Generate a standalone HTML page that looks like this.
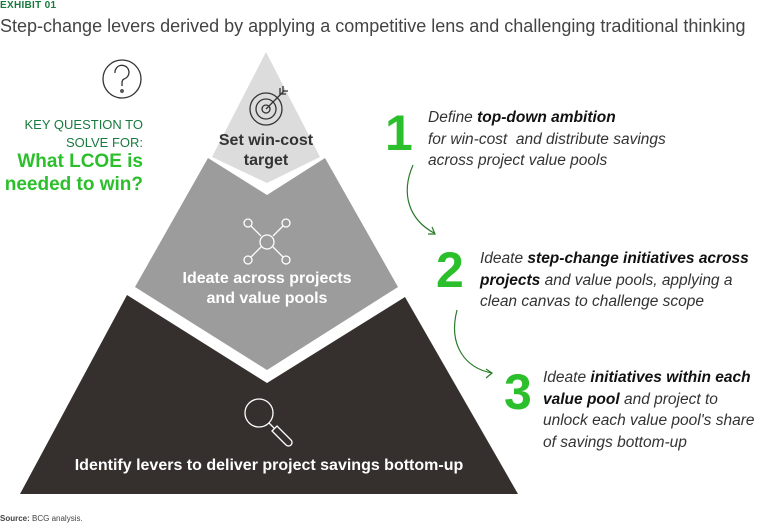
<!DOCTYPE html>
<html><head><meta charset="utf-8"><style>
body{margin:0;width:768px;height:526px;background:#fff;overflow:hidden;font-family:"Liberation Sans",sans-serif;position:relative}
.a{position:absolute;white-space:nowrap}
.it{font-style:italic;font-size:15.5px;color:#333;line-height:21.5px}
.it b{color:#111}
.n{font-weight:bold;color:#2bbf2b;font-size:50px;line-height:50px}
</style></head><body>
<div class="a" style="left:0;top:0;font-size:10px;font-weight:bold;color:#197a3e;letter-spacing:.3px">EXHIBIT 01</div>
<div class="a" style="left:0;top:16px;font-size:18px;color:#444">Step-change levers derived by applying a competitive lens and challenging traditional thinking</div>
<svg class="a" style="left:0;top:0" width="768" height="526">
<polygon points="266,52 320,157 267,183 212,157" fill="#dcdcdc"/>
<polygon points="208,158 267,195 325,158 398,287 267,370 135,287" fill="#9c9c9c"/>
<polygon points="127,295 267,383 405,297 518,494 20,494" fill="#35302e"/>
<g fill="none" stroke="#333" stroke-width="1.3">
<circle cx="122" cy="79" r="19"/>
<path d="M115,73 a7,7 0 1 1 9,6 q-2,1 -2,4 v3"/><circle cx="122" cy="91" r="1.2"/>
<circle cx="266" cy="109" r="16"/><circle cx="266" cy="109" r="10"/><circle cx="266" cy="109" r="4"/>
<path d="M266,109 L284,91 M280,88 l0,6 l6,0 M283,86 l0,5 l5,0"/>
</g>
<g fill="none" stroke="#fff" stroke-width="1.3">
<circle cx="267" cy="242" r="7"/>
<circle cx="248" cy="223" r="4"/><circle cx="286" cy="223" r="4"/><circle cx="248" cy="260" r="4"/><circle cx="286" cy="260" r="4"/>
<path d="M251,226 L261,236 M283,226 L273,236 M251,257 L261,247 M283,257 L273,247"/>
<circle cx="259" cy="413" r="14"/>
<path d="M269,423 L274,428 M272,431 l5,-5 l14,14 a3.5,3.5 0 0 1 -5,5 z"/>
</g>
<g fill="none" stroke="#2a7a2a" stroke-width="1.2">
<path d="M413,165 C400,195 410,220 434,233"/><path d="M428,234 L435,234 L432,227"/>
<path d="M457,310 C448,345 465,368 492,373"/><path d="M486,369 L492,373 L486,378"/>
</g>
</svg>
<div class="a" style="right:625px;top:116px;text-align:right;font-size:13px;color:#197a3e;line-height:18px">KEY QUESTION TO<br>SOLVE FOR:</div>
<div class="a" style="right:625px;top:150px;text-align:right;font-size:19px;font-weight:bold;color:#2bbf2b;line-height:23px">What LCOE is<br>needed to win?</div>
<div class="a" style="left:196px;width:140px;top:131px;text-align:center;font-size:16px;font-weight:bold;color:#333;line-height:20px">Set win-cost<br>target</div>
<div class="a" style="left:167px;width:200px;top:269px;text-align:center;font-size:16px;font-weight:bold;color:#fff;line-height:20px">Ideate across projects<br>and value pools</div>
<div class="a" style="left:20px;width:498px;top:457px;text-align:center;font-size:16px;font-weight:bold;color:#fff">Identify levers to deliver project savings bottom-up</div>
<div class="a n" style="left:385px;top:108px">1</div>
<div class="a it" style="left:428px;top:107px">Define <b>top-down ambition</b><br>for win-cost &nbsp;and distribute savings<br>across project value pools</div>
<div class="a n" style="left:436px;top:245px">2</div>
<div class="a it" style="left:480px;top:248px">Ideate <b>step-change initiatives across</b><br><b>projects</b> and value pools, applying a<br>clean canvas to challenge scope</div>
<div class="a n" style="left:504px;top:367px">3</div>
<div class="a it" style="left:543px;top:367px">Ideate <b>initiatives within each</b><br><b>value pool</b> and project to<br>unlock each value pool's share<br>of savings bottom-up</div>
<div class="a" style="left:0;top:514px;font-size:8px;color:#444"><b>Source:</b> BCG analysis.</div>
</body></html>
